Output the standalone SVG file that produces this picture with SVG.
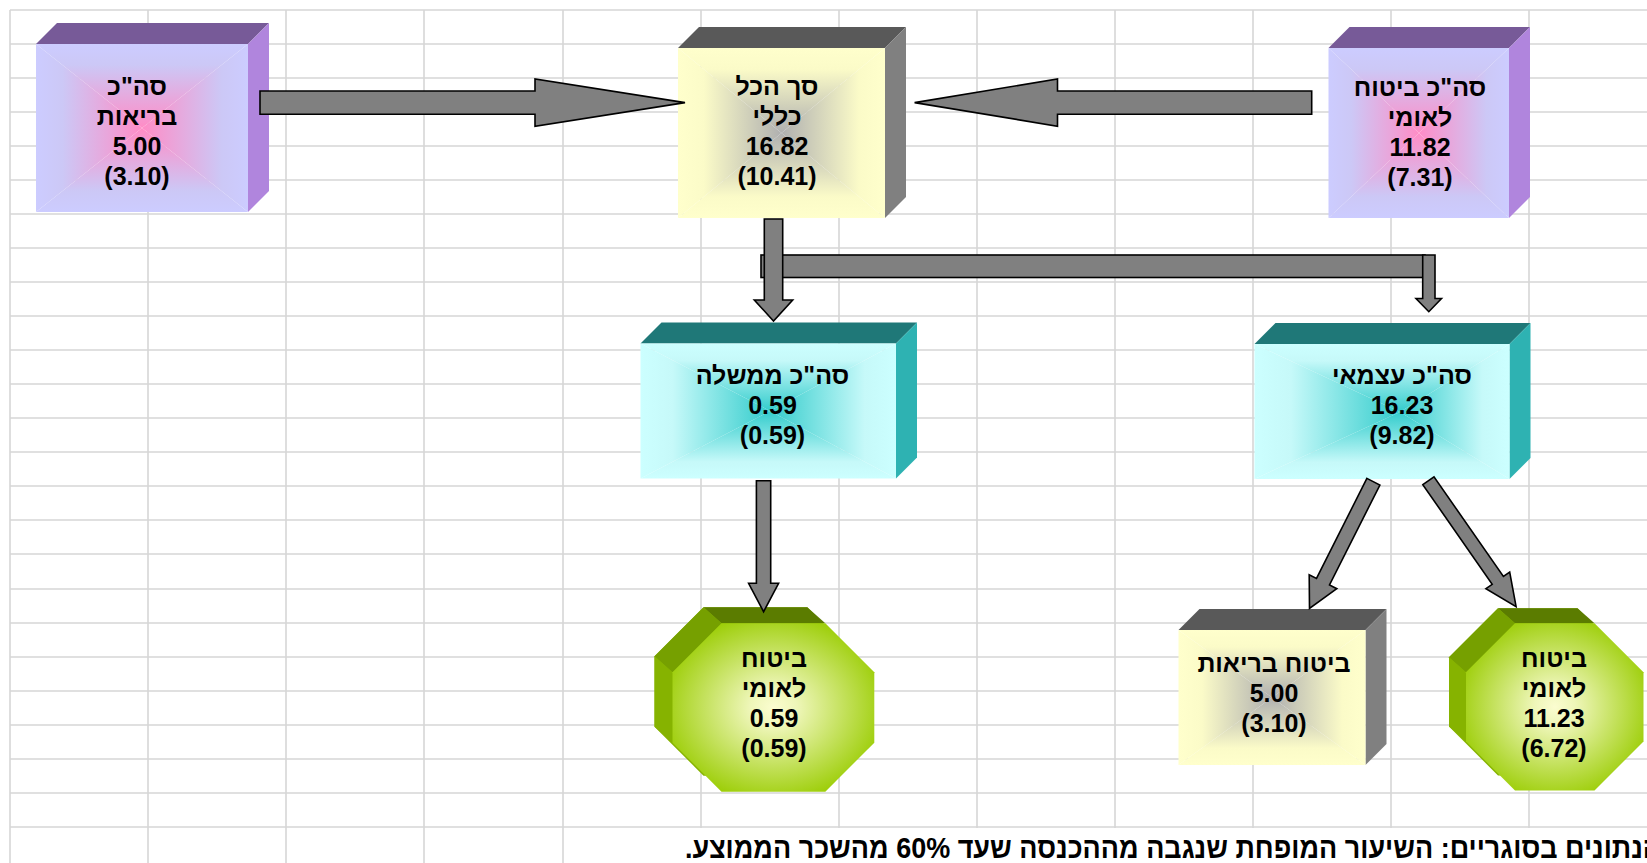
<svg xmlns="http://www.w3.org/2000/svg" xmlns:xlink="http://www.w3.org/1999/xlink" width="1647" height="863" viewBox="0 0 1647 863">
<style>
.grid{stroke:#d6d6d6;stroke-width:1.6;fill:none}
.t{font-family:"Liberation Sans",Arial,sans-serif;font-weight:bold;font-size:25px;fill:#000;text-anchor:middle}
.arr{fill:#808080;stroke:#000;stroke-width:1.6;stroke-linejoin:miter}
.pTop{fill:#775a98}.pSide{fill:#b085dd}
.yTop{fill:#595959}.ySide{fill:#808080}
.cTop{fill:#1f7878}.cSide{fill:#2eb2b2}
.gBack{fill:#86b300}.gTop{fill:#5b7c00}.gTL{fill:#76a000}.gL{fill:#86b300}
.note{font-family:"Liberation Sans",Arial,sans-serif;font-weight:bold;font-size:30px;fill:#000}
</style>
<defs>
<linearGradient id="pT" x1="0" y1="0" x2="0" y2="1"><stop offset="0" stop-color="#ccccff"/><stop offset="0.25" stop-color="#ccc8f6"/><stop offset="1" stop-color="#ff8cc6"/></linearGradient>
<linearGradient id="pB" href="#pT" x1="0" y1="1" x2="0" y2="0"/>
<linearGradient id="pL" href="#pT" x1="0" y1="0" x2="1" y2="0"/>
<linearGradient id="pR" href="#pT" x1="1" y1="0" x2="0" y2="0"/>
<linearGradient id="yT" x1="0" y1="0" x2="0" y2="1"><stop offset="0" stop-color="#ffffcc"/><stop offset="0.25" stop-color="#fbfbc8"/><stop offset="1" stop-color="#b0b0b0"/></linearGradient>
<linearGradient id="yB" href="#yT" x1="0" y1="1" x2="0" y2="0"/>
<linearGradient id="yL" href="#yT" x1="0" y1="0" x2="1" y2="0"/>
<linearGradient id="yR" href="#yT" x1="1" y1="0" x2="0" y2="0"/>
<linearGradient id="cT" x1="0" y1="0" x2="0" y2="1"><stop offset="0" stop-color="#ccffff"/><stop offset="0.25" stop-color="#c6f9f9"/><stop offset="1" stop-color="#33cccc"/></linearGradient>
<linearGradient id="cB" href="#cT" x1="0" y1="1" x2="0" y2="0"/>
<linearGradient id="cL" href="#cT" x1="0" y1="0" x2="1" y2="0"/>
<linearGradient id="cR" href="#cT" x1="1" y1="0" x2="0" y2="0"/>
<radialGradient id="gF" cx="0.5" cy="0.5" r="0.58"><stop offset="0" stop-color="#fbfdd0"/><stop offset="0.2" stop-color="#eef6b8"/><stop offset="1" stop-color="#99cc00"/></radialGradient>
</defs>

<g id="grid">
<rect x="0" y="0" width="1647" height="863" fill="#ffffff"/>
<path class="grid" d="M10 10H1647M10 44H1647M10 78H1647M10 112H1647M10 146H1647M10 180H1647M10 214H1647M10 248H1647M10 282H1647M10 316H1647M10 350H1647M10 384H1647M10 418H1647M10 452H1647M10 486H1647M10 520H1647M10 554H1647M10 589H1647M10 623H1647M10 657H1647M10 691H1647M10 725H1647M10 759H1647M10 793H1647M10 827H1647"/>
<path class="grid" d="M10 10V863M148 10V863M286 10V863M424 10V863M563 10V863M701 10V863M839 10V863M977 10V863M1115 10V863M1253 10V863M1391 10V863M1529 10V863"/>
</g>

<g id="node-briut-total">
<polygon class="pTop" points="36,44 57,23 269,23 248,44"/>
<polygon class="pSide" points="248,44 269,23 269,191 248,212"/>
<polygon fill="url(#pT)" points="36,44 248,44 142,128"/>
<polygon fill="url(#pB)" points="36,212 248,212 142,128"/>
<polygon fill="url(#pL)" points="36,44 36,212 142,128"/>
<polygon fill="url(#pR)" points="248,44 248,212 142,128"/>
<text class="t" x="137" y="95">סה"כ</text>
<text class="t" x="137" y="125">בריאות</text>
<text class="t" x="137" y="155">5.00</text>
<text class="t" x="137" y="185">(3.10)</text>
</g>

<g id="node-total">
<polygon class="yTop" points="678,48 699,27 906,27 885,48"/>
<polygon class="ySide" points="885,48 906,27 906,197 885,218"/>
<polygon fill="url(#yT)" points="678,48 885,48 781.5,133"/>
<polygon fill="url(#yB)" points="678,218 885,218 781.5,133"/>
<polygon fill="url(#yL)" points="678,48 678,218 781.5,133"/>
<polygon fill="url(#yR)" points="885,48 885,218 781.5,133"/>
<text class="t" x="777" y="95">סך הכל</text>
<text class="t" x="777" y="125">כללי</text>
<text class="t" x="777" y="155">16.82</text>
<text class="t" x="777" y="185">(10.41)</text>
</g>

<g id="node-bituach-total">
<polygon class="pTop" points="1328.5,48 1349.5,27 1530,27 1509,48"/>
<polygon class="pSide" points="1509,48 1530,27 1530,197 1509,218"/>
<polygon fill="url(#pT)" points="1328.5,48 1509,48 1419,133"/>
<polygon fill="url(#pB)" points="1328.5,218 1509,218 1419,133"/>
<polygon fill="url(#pL)" points="1328.5,48 1328.5,218 1419,133"/>
<polygon fill="url(#pR)" points="1509,48 1509,218 1419,133"/>
<text class="t" x="1420" y="96">סה"כ ביטוח</text>
<text class="t" x="1420" y="126">לאומי</text>
<text class="t" x="1420" y="156">11.82</text>
<text class="t" x="1420" y="186">(7.31)</text>
</g>

<g id="node-memshala">
<polygon class="cTop" points="640.5,343.5 661.5,322.5 917,322.5 896,343.5"/>
<polygon class="cSide" points="896,343.5 917,322.5 917,457.5 896,478.5"/>
<polygon fill="url(#cT)" points="640.5,343.5 896,343.5 770,411"/>
<polygon fill="url(#cB)" points="640.5,478.5 896,478.5 770,411"/>
<polygon fill="url(#cL)" points="640.5,343.5 640.5,478.5 770,411"/>
<polygon fill="url(#cR)" points="896,343.5 896,478.5 770,411"/>
<text class="t" x="772.5" y="384">סה"כ ממשלה</text>
<text class="t" x="772.5" y="414">0.59</text>
<text class="t" x="772.5" y="444">(0.59)</text>
</g>

<g id="node-atzmai">
<polygon class="cTop" points="1254.5,344 1275.5,323 1530.5,323 1509.5,344"/>
<polygon class="cSide" points="1509.5,344 1530.5,323 1530.5,458 1509.5,479"/>
<polygon fill="url(#cT)" points="1254.5,344 1509.5,344 1400,412"/>
<polygon fill="url(#cB)" points="1254.5,479 1509.5,479 1400,412"/>
<polygon fill="url(#cL)" points="1254.5,344 1254.5,479 1400,412"/>
<polygon fill="url(#cR)" points="1509.5,344 1509.5,479 1400,412"/>
<text class="t" x="1402" y="384">סה"כ עצמאי</text>
<text class="t" x="1402" y="414">16.23</text>
<text class="t" x="1402" y="444">(9.82)</text>
</g>

<g id="node-bituach-memshala">
<polygon class="gBack" points="703.5,607.3 807.3,607.3 856.3,656.3 856.3,726.7 807.3,775.7 703.5,775.7 654.5,726.7 654.5,656.3"/>
<polygon class="gTop" points="721.5,623.3 825.3,623.3 807.3,607.3 703.5,607.3"/>
<polygon class="gTL" points="672.5,672.3 721.5,623.3 703.5,607.3 654.5,656.3"/>
<polygon class="gL" points="672.5,742.7 672.5,672.3 654.5,656.3 654.5,726.7"/>
<polygon fill="url(#gF)" points="721.5,623.3 825.3,623.3 874.3,672.3 874.3,742.7 825.3,791.7 721.5,791.7 672.5,742.7 672.5,672.3"/>
<text class="t" x="774" y="667">ביטוח</text>
<text class="t" x="774" y="697">לאומי</text>
<text class="t" x="774" y="727">0.59</text>
<text class="t" x="774" y="757">(0.59)</text>
</g>

<g id="node-bituach-briut">
<polygon class="yTop" points="1178.5,630 1199.5,609 1386.5,609 1365.5,630"/>
<polygon class="ySide" points="1365.5,630 1386.5,609 1386.5,744 1365.5,765"/>
<polygon fill="url(#yT)" points="1178.5,630 1365.5,630 1272,697.5"/>
<polygon fill="url(#yB)" points="1178.5,765 1365.5,765 1272,697.5"/>
<polygon fill="url(#yL)" points="1178.5,630 1178.5,765 1272,697.5"/>
<polygon fill="url(#yR)" points="1365.5,630 1365.5,765 1272,697.5"/>
<text class="t" x="1274" y="672">ביטוח בריאות</text>
<text class="t" x="1274" y="702">5.00</text>
<text class="t" x="1274" y="732">(3.10)</text>
</g>

<g id="node-bituach-atzmai">
<polygon class="gBack" points="1498,608.3 1577.5,608.3 1626.5,657.3 1626.5,726.5 1577.5,775.5 1498,775.5 1449,726.5 1449,657.3"/>
<polygon class="gTop" points="1515,623.3 1594.5,623.3 1577.5,608.3 1498,608.3"/>
<polygon class="gTL" points="1466,672.3 1515,623.3 1498,608.3 1449,657.3"/>
<polygon class="gL" points="1466,741.5 1466,672.3 1449,657.3 1449,726.5"/>
<polygon fill="url(#gF)" points="1515,623.3 1594.5,623.3 1643.5,672.3 1643.5,741.5 1594.5,790.5 1515,790.5 1466,741.5 1466,672.3"/>
<text class="t" x="1554" y="667">ביטוח</text>
<text class="t" x="1554" y="697">לאומי</text>
<text class="t" x="1554" y="727">11.23</text>
<text class="t" x="1554" y="757">(6.72)</text>
</g>

<g id="connectors">
<polygon class="arr" points="260,91 535,91 535,79 685,102.6 535,126.2 535,114.2 260,114.2"/>
<polygon class="arr" points="1311.7,91 1057.5,91 1057.5,79 914.6,102.6 1057.5,126.2 1057.5,114.2 1311.7,114.2"/>
<rect class="arr" x="761" y="255" width="664" height="22.5"/>
<polygon class="arr" points="764.3,219 782.7,219 782.7,300 792.7,300 773.5,321 754.3,300 764.3,300"/>
<polygon class="arr" points="1422.7,255 1435,255 1435,298.5 1441.5,298.5 1428.8,311.7 1416,298.5 1422.7,298.5"/>
<polygon class="arr" points="756.4,480.7 770.7,480.7 770.7,583.3 778.6,583.3 763.6,611.7 748.6,583.3 756.4,583.3"/>
<polygon class="arr" points="1366.9,478.4 1379.9,485 1329.5,585 1336.8,588.7 1309.5,608.5 1309.2,574.7 1316.5,578.4"/>
<polygon class="arr" points="1422.8,484.6 1434,476.8 1503.4,576.5 1509.7,572.1 1516.1,606.7 1485.9,588.7 1492.2,584.3"/>
</g>

<g id="note">
<rect x="564" y="828" width="1083" height="35" fill="#ffffff"/>
<text class="note" direction="rtl" text-anchor="end" transform="translate(685,858) scale(0.9,1)">הנתונים בסוגריים: השיעור המופחת שנגבה מההכנסה שעד 60% מהשכר הממוצע.</text>
</g>
</svg>
